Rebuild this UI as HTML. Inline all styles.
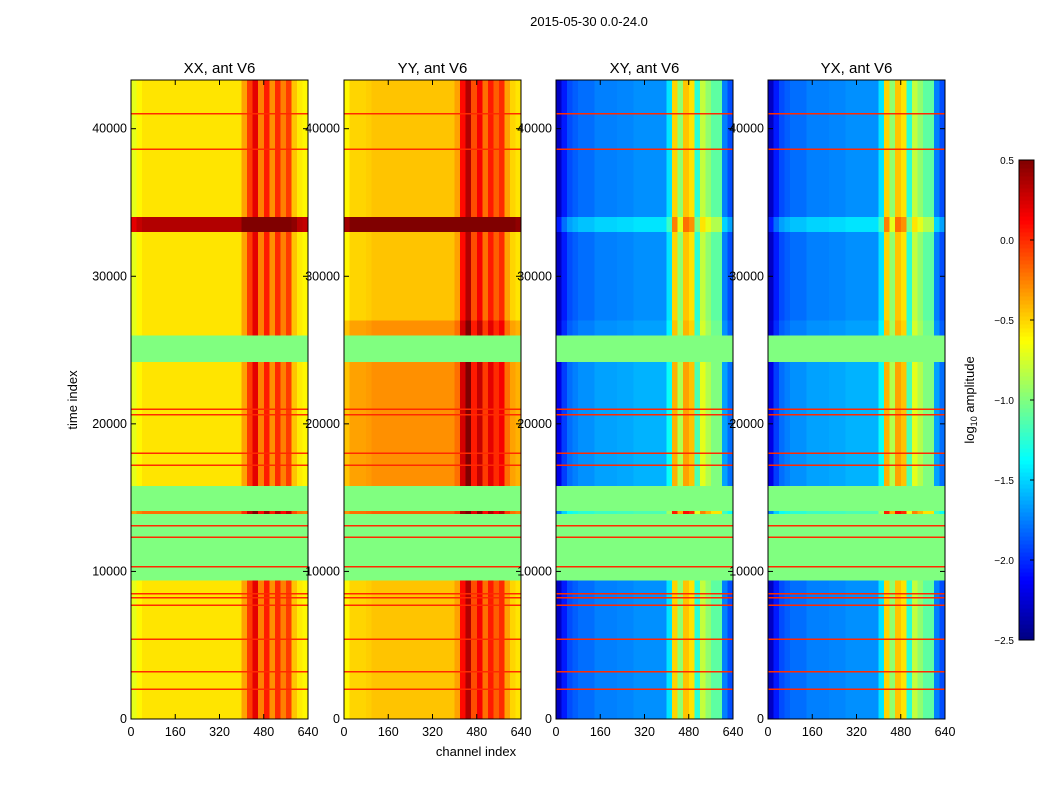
<!DOCTYPE html>
<html><head><meta charset="utf-8">
<style>
body{margin:0;background:#fff;font-family:"Liberation Sans",sans-serif;}
svg text{font-family:"Liberation Sans",sans-serif;}
</style></head>
<body>
<svg id="chart" width="1050" height="800" viewBox="0 0 1050 800">
<rect width="1050" height="800" fill="#fff"/>
<text x="589" y="26" font-size="13" text-anchor="middle">2015-05-30 0.0-24.0</text>
<text x="0" y="0" font-size="13" text-anchor="middle" transform="translate(77,400) rotate(-90)">time index</text>
<text x="476" y="756" font-size="13" text-anchor="middle">channel index</text>
<text x="0" y="0" font-size="13" text-anchor="middle" transform="translate(974,400) rotate(-90)">log<tspan font-size="9" dy="3">10</tspan><tspan dy="-3"> amplitude</tspan></text>
<g id="panels"></g>
<g id="cbar"></g>
</svg>
<script>
// ---- data ----
const panelTitles = ["XX, ant V6","YY, ant V6","XY, ant V6","YX, ant V6"];
const timeEdges = [0,9400,13900,14100,15800,24200,26000,27000,33000,34000,43300];
// segment base log amplitude; segMode 1 = add channel profile, 0 = constant (flagged)
const segMode = [1,0,1,0,1,0,1,1,1,1];
const segXX = [-0.55,-1.0,-0.2,-1.0,-0.55,-1.0,-0.55,-0.55,0.35,-0.55];
const segYY = [-0.5,-1.0,-0.2,-1.0,-0.35,-1.0,-0.35,-0.5,0.5,-0.5];
const segXY = [-1.85,-1.0,-1.3,-1.0,-1.75,-1.0,-1.8,-1.85,-1.6,-1.85];
const segYX = [-1.85,-1.0,-1.3,-1.0,-1.75,-1.0,-1.8,-1.85,-1.6,-1.85];
// channel profile offsets, 32 bins of 20 channels
const profXX = [-0.15,-0.05,0,0,0,0,0,0,0,0,0,0,0,0,0,0,0,0,0,0,0.2,0.5,0.75,0.3,0.6,0.25,0.55,0.3,0.5,0.1,-0.02,-0.05];
const profYY = [-0.1,0,0,0,0.02,0.05,0.05,0.05,0.05,0.05,0.05,0.05,0.05,0.05,0.05,0.05,0.05,0.05,0.05,0.05,0.15,0.6,0.85,0.4,0.65,0.3,0.55,0.35,0.5,0.15,0,-0.05];
const profXY = [-0.45,-0.2,-0.05,0,0.05,0.05,0.05,0.1,0.1,0.1,0.1,0.12,0.12,0.12,0.15,0.15,0.15,0.15,0.15,0.15,0.4,1.35,0.9,1.4,1.3,0.6,1.05,0.9,0.75,0.75,0.1,-0.05];
const profYX = [-0.45,-0.2,-0.05,0,0.05,0.05,0.05,0.1,0.1,0.1,0.1,0.12,0.12,0.12,0.15,0.15,0.15,0.15,0.15,0.15,0.4,1.35,0.9,1.4,1.3,0.6,1.05,0.9,0.75,0.75,0.1,-0.05];
const redLines = [2000,3200,5400,7700,8200,8500,10300,12300,13100,17200,18000,20600,21000,38600,41000];
const yTicks = [0,10000,20000,30000,40000];
const xTicks = [0,160,320,480,640];
const cbTicks = [0.5,0.0,-0.5,-1.0,-1.5,-2.0,-2.5];
const cbLabels = ["0.5","0.0","\u22120.5","\u22121.0","\u22121.5","\u22122.0","\u22122.5"];

const segs=[segXX,segYY,segXY,segYX], profs=[profXX,profYY,profXY,profYX];
const panelX=[131,344,556,768], PW=177, PT=80, PB=719, TMAX=43300, VMIN=-2.5, VMAX=0.5;
const NS="http://www.w3.org/2000/svg";
function yS(t){return PB-(t/TMAX)*(PB-PT);}
function xS(px,c){return px+c/640*PW;}
function jet(v){let t=(v-VMIN)/(VMAX-VMIN);t=Math.max(0,Math.min(1,t));
 const f=x=>Math.max(0,Math.min(1,x));
 const r=f(1.5-Math.abs(4*t-3)),g=f(1.5-Math.abs(4*t-2)),b=f(1.5-Math.abs(4*t-1));
 return `rgb(${Math.round(r*255)},${Math.round(g*255)},${Math.round(b*255)})`;}
function mk(tag,attrs,parent){const e=document.createElementNS(NS,tag);for(const k in attrs)e.setAttribute(k,attrs[k]);parent.appendChild(e);return e;}
const root=document.getElementById('panels');
for(let p=0;p<4;p++){
 const px=panelX[p];
 const g=mk('g',{},root);
 
 
 const cells=mk('g',{'shape-rendering':'crispEdges'},g);
 for(let s=0;s<segMode.length;s++){
  const y0=yS(timeEdges[s+1]),y1=yS(timeEdges[s]);
  const pr=profs[p];
  for(let b=0;b<pr.length;b++){
   const v=segs[p][s]+(segMode[s]?pr[b]:0);
   const r=mk('rect',{x:xS(px,b*20),y:y0,width:PW/pr.length+0.5,height:y1-y0,fill:jet(v)},cells);
   
   
  }
 }
 for(const t of redLines){
  const l=mk('rect',{x:px,y:yS(t)-0.75,width:PW,height:1.5,fill:jet(0)},cells);
  
  
 }
 mk('rect',{x:px,y:PT,width:PW,height:PB-PT,fill:'none',stroke:'#000','stroke-width':1},g);
 const tt=mk('text',{x:px+PW/2,y:73,'font-size':15,'text-anchor':'middle'},g);tt.textContent=panelTitles[p];
 
 
 for(const t of yTicks){const y=yS(t);
  mk('line',{x1:px,x2:px+5,y1:y,y2:y,stroke:'#000'},g);mk('line',{x1:px+PW,x2:px+PW-5,y1:y,y2:y,stroke:'#000'},g);
  const tx=mk('text',{x:px-4,y:y+4,'font-size':12.5,'text-anchor':'end'},g);tx.textContent=t;
  
  }
 for(const c of xTicks){const x=xS(px,c);
  mk('line',{x1:x,x2:x,y1:PB,y2:PB-5,stroke:'#000'},g);mk('line',{x1:x,x2:x,y1:PT,y2:PT+5,stroke:'#000'},g);
  const tx=mk('text',{x:x,y:PB+17,'font-size':12.5,'text-anchor':'middle'},g);tx.textContent=c;
  
  }
}
// colorbar
const cb=document.getElementById('cbar');


const CX=1019,CW=15,CT=160,CB=640;
function cy(v){return CB-(v-VMIN)/(VMAX-VMIN)*(CB-CT);}
for(let i=0;i<120;i++){const v0=VMIN+i*(VMAX-VMIN)/120,v1=VMIN+(i+1)*(VMAX-VMIN)/120;
 mk('rect',{x:CX,y:cy(v1),width:CW,height:cy(v0)-cy(v1)+0.5,fill:jet((v0+v1)/2),'shape-rendering':'crispEdges'},cb);}
mk('rect',{x:CX,y:CT,width:CW,height:CB-CT,fill:'none',stroke:'#000'},cb);
cbTicks.forEach((v,i)=>{const y=cy(v);
 mk('line',{x1:CX+CW-4,x2:CX+CW,y1:y,y2:y,stroke:'#000'},cb);
 const t=mk('text',{x:CX-5,y:y+4,'font-size':10,'text-anchor':'end',fill:'#000'},cb);
 t.textContent=cbLabels[i];
 
 
});
</script>
</body></html>
